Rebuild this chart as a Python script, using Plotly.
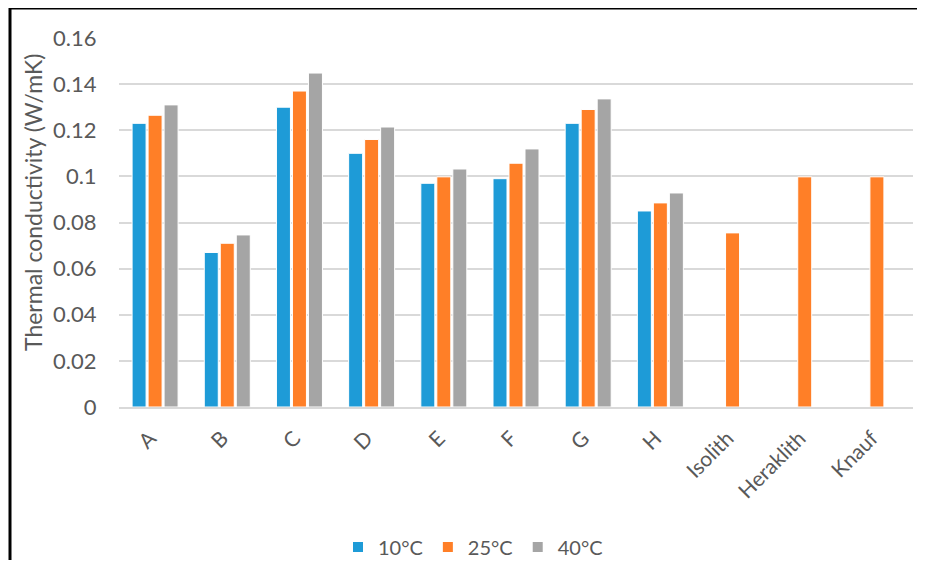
import plotly.graph_objects as go

categories = ["A", "B", "C", "D", "E", "F", "G", "H", "Isolith", "Heraklith", "Knauf"]
t10 = [0.123, 0.067, 0.130, 0.110, 0.097, 0.099, 0.123, 0.085, None, None, None]
t25 = [0.1265, 0.071, 0.137, 0.116, 0.0998, 0.1057, 0.129, 0.0885, 0.0755, 0.0998, 0.0998]
t40 = [0.131, 0.0746, 0.1448, 0.1214, 0.1032, 0.1119, 0.1336, 0.0928, None, None, None]
series_names = ["10°C", "25°C", "40°C"]
colors = ["#1E9BD7", "#FF7F27", "#A5A5A5"]
y_ticks = [0, 0.02, 0.04, 0.06, 0.08, 0.1, 0.12, 0.14, 0.16]
y_ticktext = ["0", "0.02", "0.04", "0.06", "0.08", "0.1", "0.12", "0.14", "0.16"]
y_title = "Thermal conductivity (W/mK)"

# page body has an 8px margin; work in page pixels and shift by it
OFF = 8
W, H = 925 - 2 * OFF, 568 - 2 * OFF
plot_l, plot_r, plot_t, plot_b = 119, 913, 38, 407   # page pixels
ml = plot_l - OFF
mt = plot_t - OFF
pw = plot_r - plot_l
ph = plot_b - plot_t
mr = W - ml - pw
mb = H - mt - ph

def px_x(p):
    return (p - plot_l) / pw

def px_y(p):
    return (plot_b - p) / ph

fig = go.Figure()
for name, vals, col in zip(series_names, [t10, t25, t40], colors):
    fig.add_trace(go.Bar(
        x=categories, y=vals, name=name,
        marker=dict(color=col, line=dict(color="white", width=1)),
    ))

font_family = "Lato, Open Sans, DejaVu Sans, sans-serif"
fig.update_layout(
    width=W, height=H,
    margin=dict(l=ml, r=mr, t=mt, b=mb, autoexpand=False),
    paper_bgcolor="white", plot_bgcolor="white",
    barmode="group", bargap=0.335, bargroupgap=0.125,
    font=dict(family=font_family, color="#595959", size=20),
    showlegend=True,
    legend=dict(orientation="h", x=px_x(473), xanchor="center",
                y=px_y(547), yanchor="middle",
                font=dict(size=20, color="#595959"),
                itemwidth=30, itemsizing="constant", traceorder="normal"),
    xaxis=dict(
        tickangle=-45, showgrid=False, showline=True, linecolor="#D9D9D9", linewidth=1.5,
        ticks="outside", ticklen=9, tickcolor="rgba(0,0,0,0)",
        tickfont=dict(size=21, color="#595959"),
        ticklabelshift=-5,
        automargin=False,
    ),
    yaxis=dict(
        range=[0, 0.16], tickvals=y_ticks, ticktext=y_ticktext,
        showgrid=True, gridcolor="#D9D9D9", gridwidth=1.5,
        zeroline=False, showline=False,
        ticks="outside", ticklen=17, tickcolor="rgba(0,0,0,0)",
        tickfont=dict(size=22, color="#595959"),
        automargin=False,
    ),
)

# y-axis title placed as in the reference (slightly above the plot centre)
fig.add_annotation(text=y_title, xref="paper", yref="paper", x=px_x(33), y=px_y(203),
                   xanchor="center", yanchor="middle", textangle=-90, showarrow=False,
                   font=dict(size=23, color="#595959", family=font_family))

# outer black frame (top and left edges visible in reference)
fig.add_shape(type="line", xref="paper", yref="paper", x0=px_x(10), x1=1.2, y0=px_y(8), y1=px_y(8),
              line=dict(color="black", width=3))
fig.add_shape(type="line", xref="paper", yref="paper", x0=px_x(10), x1=px_x(10), y0=px_y(8), y1=-0.6,
              line=dict(color="black", width=3))

fig.write_html("out.html")
